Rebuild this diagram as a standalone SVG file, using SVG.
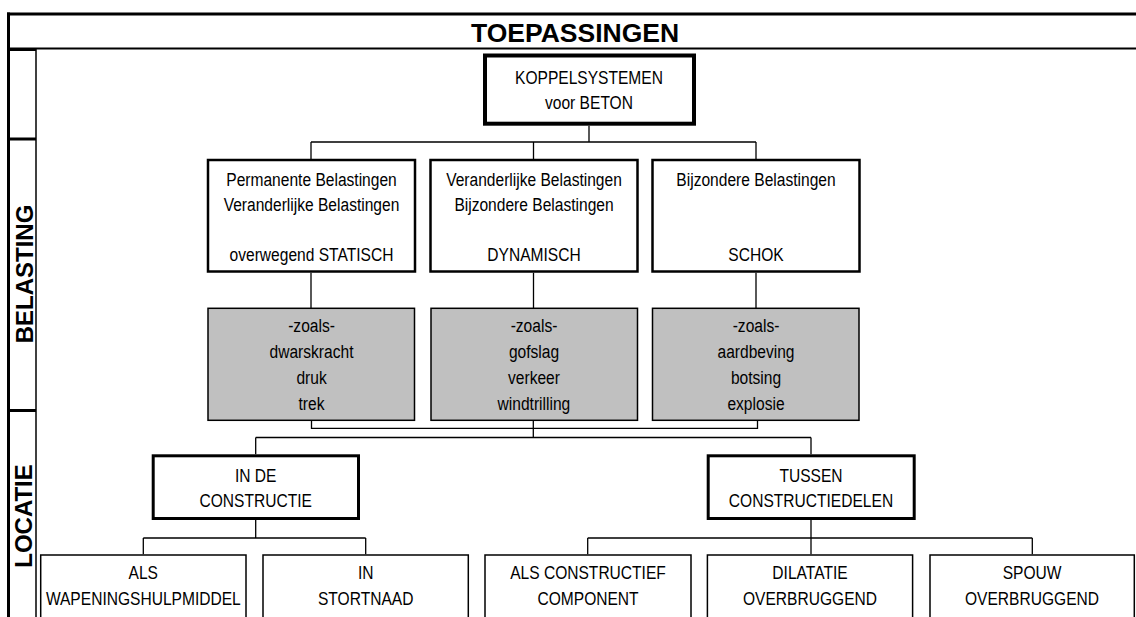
<svg xmlns="http://www.w3.org/2000/svg" width="1136" height="617" viewBox="0 0 1136 617">
<style>
  .t { font-family: "Liberation Sans Narrow", "Liberation Sans", Arial, sans-serif; font-size: 19px; fill: #000; text-anchor: middle; transform-box: fill-box; transform-origin: center; transform: scaleX(0.82); }
  .h { font-family: "Liberation Sans", Arial, sans-serif; font-weight: bold; fill: #000; text-anchor: middle; }
  .frame { stroke: #000; fill: none; }
  .c { stroke: #000; stroke-width: 1.3; fill: none; }
  .top { fill: #fff; stroke: #000; stroke-width: 4; }
  .mid { fill: #fff; stroke: #000; stroke-width: 2.5; }
  .grey { fill: #c0c0c0; stroke: #000; stroke-width: 1.5; }
  .loc { fill: #fff; stroke: #000; stroke-width: 3; }
  .leaf { fill: #fff; stroke: #000; stroke-width: 1.5; }
</style>
<rect width="1136" height="617" fill="#fff"/>
<g id="frame">
  <line class="frame" x1="7" y1="14" x2="1136" y2="14" stroke-width="3"/>
  <line class="frame" x1="8.5" y1="12.5" x2="8.5" y2="617" stroke-width="3"/>
  <line class="frame" x1="8" y1="48.5" x2="1136" y2="48.5" stroke-width="2"/>
  <line class="frame" x1="8" y1="49.5" x2="36" y2="49.5" stroke-width="3"/>
  <line class="frame" x1="36" y1="48" x2="36" y2="617" stroke-width="1.5"/>
  <line class="frame" x1="8" y1="139" x2="36" y2="139" stroke-width="3"/>
  <line class="frame" x1="8" y1="410.5" x2="36" y2="410.5" stroke-width="3"/>
  <text class="h" x="575" y="42" font-size="26.5">TOEPASSINGEN</text>
  <text class="h" font-size="24" transform="translate(32.7,274) rotate(-90)">BELASTING</text>
  <text class="h" font-size="24" transform="translate(32.3,516) rotate(-90)">LOCATIE</text>
</g>
<g id="connectors">
  <path class="c" d="M589 125.7V142M311 142H756M311 142V159M533.5 142V159M756 142V159"/>
  <path class="c" d="M311 272.7V308M533.5 272.7V308M756 272.7V308"/>
  <path class="c" d="M311.5 420.5V428.3H757.5V420.5M533.3 420.5V437.5M255.7 437.5H811M255.7 437.5V454.3M811 437.5V454.3"/>
  <path class="c" d="M255.7 520V538M143.3 538H365.7M143.3 538V554.3M365.7 538V554.3"/>
  <path class="c" d="M811 520V554.3M587.7 538H1032.3M587.7 538V554.3M1032.3 538V554.3"/>
</g>
<g id="koppelsystemen">
  <rect class="top" x="485" y="55.5" width="209" height="68.2"/>
  <text class="t" x="589" y="84">KOPPELSYSTEMEN</text>
  <text class="t" x="589" y="109">voor BETON</text>
</g>
<g id="statisch">
  <rect class="mid" x="208" y="160" width="207" height="111.5"/>
  <text class="t" x="311.5" y="186">Permanente Belastingen</text>
  <text class="t" x="311.5" y="211">Veranderlijke Belastingen</text>
  <text class="t" x="311.5" y="261">overwegend STATISCH</text>
</g>
<g id="dynamisch">
  <rect class="mid" x="430.5" y="160" width="207" height="111.5"/>
  <text class="t" x="534" y="186">Veranderlijke Belastingen</text>
  <text class="t" x="534" y="211">Bijzondere Belastingen</text>
  <text class="t" x="534" y="261">DYNAMISCH</text>
</g>
<g id="schok">
  <rect class="mid" x="652.5" y="160" width="207" height="111.5"/>
  <text class="t" x="756" y="186">Bijzondere Belastingen</text>
  <text class="t" x="756" y="261">SCHOK</text>
</g>
<g id="voorbeeld-statisch">
  <rect class="grey" x="208" y="308.3" width="206.5" height="112"/>
  <text class="t" x="311.5" y="332.5">-zoals-</text>
  <text class="t" x="311.5" y="358.5">dwarskracht</text>
  <text class="t" x="311.5" y="384.5">druk</text>
  <text class="t" x="311.5" y="410">trek</text>
</g>
<g id="voorbeeld-dynamisch">
  <rect class="grey" x="431" y="308.3" width="206.5" height="112"/>
  <text class="t" x="534" y="332.5">-zoals-</text>
  <text class="t" x="534" y="358.5">gofslag</text>
  <text class="t" x="534" y="384.5">verkeer</text>
  <text class="t" x="534" y="410">windtrilling</text>
</g>
<g id="voorbeeld-schok">
  <rect class="grey" x="652.5" y="308.3" width="206.5" height="112"/>
  <text class="t" x="756" y="332.5">-zoals-</text>
  <text class="t" x="756" y="358.5">aardbeving</text>
  <text class="t" x="756" y="384.5">botsing</text>
  <text class="t" x="756" y="410">explosie</text>
</g>
<g id="in-de-constructie">
  <rect class="loc" x="153.2" y="455.8" width="205.3" height="62.7"/>
  <text class="t" x="255.7" y="482.3">IN DE</text>
  <text class="t" x="255.7" y="507.3">CONSTRUCTIE</text>
</g>
<g id="tussen-constructiedelen">
  <rect class="loc" x="708.2" y="455.8" width="206" height="62.7"/>
  <text class="t" x="811" y="482.3">TUSSEN</text>
  <text class="t" x="811" y="507.3">CONSTRUCTIEDELEN</text>
</g>
<g id="wapeningshulpmiddel">
  <rect class="leaf" x="40.7" y="555" width="205.3" height="80"/>
  <text class="t" x="143.3" y="579.3">ALS</text>
  <text class="t" x="143.3" y="605">WAPENINGSHULPMIDDEL</text>
</g>
<g id="stortnaad">
  <rect class="leaf" x="263" y="555" width="205.3" height="80"/>
  <text class="t" x="365.7" y="579.3">IN</text>
  <text class="t" x="365.7" y="605">STORTNAAD</text>
</g>
<g id="constructief-component">
  <rect class="leaf" x="485" y="555" width="206" height="80"/>
  <text class="t" x="588" y="579.3">ALS CONSTRUCTIEF</text>
  <text class="t" x="588" y="605">COMPONENT</text>
</g>
<g id="dilatatie">
  <rect class="leaf" x="707.4" y="555" width="205.2" height="80"/>
  <text class="t" x="810" y="579.3">DILATATIE</text>
  <text class="t" x="810" y="605">OVERBRUGGEND</text>
</g>
<g id="spouw">
  <rect class="leaf" x="930" y="555" width="204.3" height="80"/>
  <text class="t" x="1032" y="579.3">SPOUW</text>
  <text class="t" x="1032" y="605">OVERBRUGGEND</text>
</g>
</svg>
